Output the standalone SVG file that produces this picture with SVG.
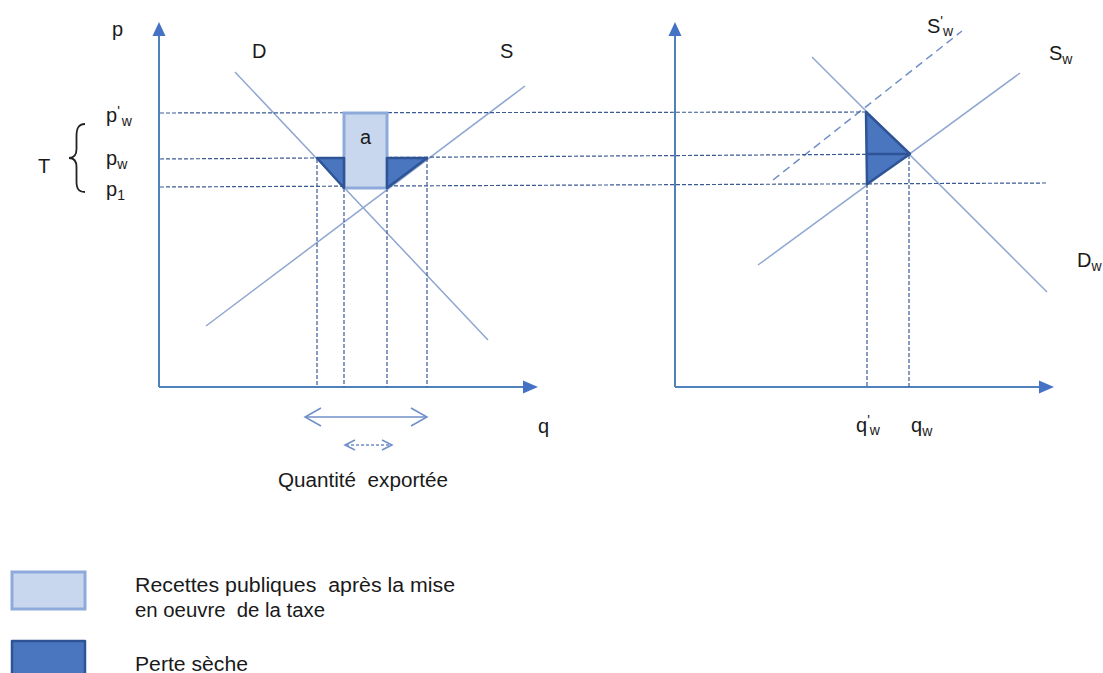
<svg xmlns="http://www.w3.org/2000/svg" width="1103" height="673" viewBox="0 0 1103 673">
<style>
text{font-family:"Liberation Sans",Arial,sans-serif;fill:#1a1a1a;font-size:20px;white-space:pre}
.sub{font-size:14px}
.axis{stroke:#4f81bd;stroke-width:2;fill:none}
.head{fill:#4472c4}
.curve{stroke:#8ea6d0;stroke-width:1.5;fill:none}
.dash{stroke:#3a5a94;stroke-width:1.2;stroke-dasharray:4 2;fill:none}
.dash2{stroke:#6f8fc8;stroke-width:1.5;stroke-dasharray:8 5;fill:none}
.tax{fill:#c9d7ee;stroke:#8eaadb;stroke-width:3}
.loss{fill:#4a76c0;stroke:#2f5496;stroke-width:2.5;stroke-linejoin:round}
.arr{stroke:#6f8fc8;stroke-width:1.5;fill:none}
</style>
<rect width="1103" height="673" fill="#ffffff"/>
<g id="connectors">
  <line class="axis" x1="159" y1="387" x2="159" y2="34"/>
  <polygon class="head" points="159,22 152.5,36 165.5,36"/>
  <line class="axis" x1="159" y1="387" x2="525" y2="387"/>
  <polygon class="head" points="538,387 523,380.5 523,393.5"/>
  <line class="axis" x1="675" y1="387" x2="675" y2="34"/>
  <polygon class="head" points="675,22 668.5,36 681.5,36"/>
  <line class="axis" x1="675" y1="387" x2="1041" y2="387"/>
  <polygon class="head" points="1054,387 1039,380.5 1039,393.5"/>
  <line class="curve" x1="235" y1="72" x2="488" y2="340"/>
  <line class="curve" x1="206" y1="326" x2="525" y2="86"/>
  <line class="curve" x1="758" y1="265" x2="1020" y2="73"/>
  <line class="curve" x1="812" y1="57" x2="1047" y2="292"/>
  <line class="dash2" x1="773" y1="180" x2="962" y2="31"/>
  <line class="dash" x1="160" y1="113" x2="866" y2="112"/>
  <line class="dash" x1="160" y1="159" x2="909" y2="154"/>
  <line class="dash" x1="160" y1="187" x2="1046" y2="183"/>
  <line class="dash" x1="317" y1="159" x2="317" y2="387"/>
  <line class="dash" x1="344" y1="188" x2="344" y2="387"/>
  <line class="dash" x1="387" y1="188" x2="387" y2="387"/>
  <line class="dash" x1="427" y1="158" x2="427" y2="387"/>
  <line class="dash" x1="867" y1="184" x2="867" y2="387"/>
  <line class="dash" x1="909" y1="155" x2="909" y2="387"/>
  <line class="arr" x1="305" y1="417" x2="427" y2="417"/>
  <polyline class="arr" points="321,408 305,417 321,426"/>
  <polyline class="arr" points="411,408 427,417 411,426"/>
  <line class="arr" x1="346" y1="445" x2="391" y2="445" stroke-dasharray="3 2"/>
  <polyline class="arr" points="355,440 345,445 355,450"/>
  <polyline class="arr" points="382,440 392,445 382,450"/>
</g>
<g id="area-a">
  <rect class="tax" x="344" y="113" width="43" height="75"/>
  <text x="360" y="144">a</text>
</g>
<g id="loss-left">
  <polygon class="loss" points="317,158 344,158 344,188"/>
</g>
<g id="loss-right">
  <polygon class="loss" points="387,158 427,158 387,188"/>
</g>
<g id="loss-world">
  <polygon class="loss" points="866,112 910,154 867,184"/>
  <line x1="866" y1="154" x2="910" y2="154" stroke="#2f5496" stroke-width="2.5"/>
</g>
<g id="labels-left">
  <text x="112" y="36">p</text>
  <text x="252" y="58">D</text>
  <text x="500" y="58">S</text>
  <text x="106" y="122">p<tspan class="sub" dy="-6">'</tspan><tspan class="sub" dx="2" dy="10">w</tspan></text>
  <text x="106" y="165">p<tspan class="sub" dy="4">w</tspan></text>
  <text x="106" y="196">p<tspan class="sub" dy="4">1</tspan></text>
  <text x="38" y="173" font-size="25">T</text>
  <path d="M85,124 C78,124 76.5,129 76.5,136 L76.5,149 C76.5,155 74,158 69,158 C74,158 76.5,161 76.5,167 L76.5,181 C76.5,188 78,192 85,192" fill="none" stroke="#222" stroke-width="1.8"/>
  <text x="538" y="433">q</text>
  <text x="278" y="487" textLength="170" lengthAdjust="spacingAndGlyphs">Quantité  exportée</text>
</g>
<g id="labels-right">
  <text x="927" y="33">S<tspan class="sub" dy="-7">'</tspan><tspan class="sub" dy="10">w</tspan></text>
  <text x="1049" y="60">S<tspan class="sub" dy="4">w</tspan></text>
  <text x="1077" y="267">D<tspan class="sub" dy="4">w</tspan></text>
  <text x="856" y="432">q<tspan class="sub" dy="-7">'</tspan><tspan class="sub" dy="10">w</tspan></text>
  <text x="911" y="432">q<tspan class="sub" dy="4">w</tspan></text>
</g>
<g id="legend-tax">
  <rect class="tax" x="12" y="572" width="73" height="37"/>
  <text x="135" y="592" textLength="320" lengthAdjust="spacingAndGlyphs">Recettes publiques  après la mise</text>
  <text x="135" y="617" textLength="190" lengthAdjust="spacingAndGlyphs">en oeuvre  de la taxe</text>
</g>
<g id="legend-loss">
  <rect class="loss" x="12" y="641" width="73" height="42"/>
  <text x="135" y="671" textLength="113" lengthAdjust="spacingAndGlyphs">Perte sèche</text>
</g>
</svg>
